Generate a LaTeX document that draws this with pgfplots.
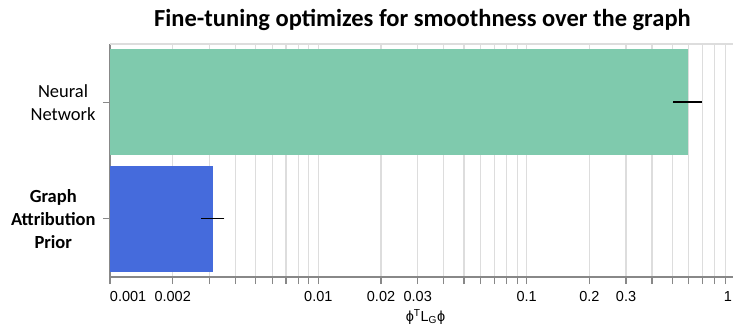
\documentclass[border=0pt]{standalone}
\usepackage{fontspec}
\setmainfont{Carlito}
\newfontfamily\arialfont{Liberation Sans}
\usepackage{pgfplots}
\pgfplotsset{compat=1.18}
\definecolor{nngreen}{HTML}{7FCAAD}
\definecolor{gapblue}{HTML}{456BDC}
\definecolor{gridgray}{HTML}{DDDDDD}
\definecolor{axgray}{HTML}{888888}
\begin{document}
\begin{tikzpicture}
\begin{axis}[
  at={(110bp,56bp)}, anchor=south west,
  scale only axis, width=625bp, height=233bp,
  xmode=log, xmin=0.001, xmax=1,
  ymin=-0.5, ymax=1.5,
  log origin x=infty,
  axis x line*=bottom, axis y line*=left,
  axis line style={-, draw=axgray, line width=1.2bp},
  xtick pos=bottom, ytick pos=left,
  tick align=outside,
  major tick length=7bp,
  tick style={draw=axgray, line width=1.2bp},
  xtick={0.001,0.002,0.003,0.004,0.005,0.006,0.007,0.008,0.009,
         0.01,0.02,0.03,0.04,0.05,0.06,0.07,0.08,0.09,
         0.1,0.2,0.3,0.4,0.5,0.6,0.7,0.8,0.9,1},
  xticklabels={\makebox[0pt][l]{0.001},0.002,,,,,,,,0.01,0.02,0.03,,,,,,,0.1,0.2,0.3,,,,,,,\makebox[0pt][r]{1\hspace{3bp}}},
  minor xtick={},
  xmajorgrids,
  major grid style={draw=gridgray, line width=1.2bp},
  xticklabel style={font=\arialfont\fontsize{14.5bp}{17bp}\selectfont, anchor=base, yshift=-17bp},
  ytick={0,1},
  yticklabels={{\textbf{Graph}\\\textbf{Attribution}\\\textbf{Prior}},{Neural\\Network}},
  yticklabel style={font=\fontsize{18.5bp}{23bp}\selectfont, align=center, anchor=east, xshift=-4bp},
  xlabel={ϕ\textsuperscript{T}L\textsubscript{G}ϕ},
  xlabel style={font=\arialfont\fontsize{14.5bp}{17bp}\selectfont, at={(axis description cs:0.5,0)}, anchor=base, yshift=-44.5bp, xshift=3bp},
  title={Fine-tuning optimizes for smoothness over the graph},
  title style={font=\bfseries\fontsize{24.5bp}{28bp}\selectfont, at={(axis description cs:0.5,1)}, anchor=base, yshift=11.7bp},
  xbar, bar width=0.91, bar shift=0pt,
]
\addplot[draw=none, fill=nngreen, error bars/.cd, x dir=both, x explicit, error mark=none, error bar style={black, line width=1.5bp}]
  coordinates {(0.593,1) += (0.100,0) -= (0.091,0)};
\addplot[draw=none, fill=gapblue, error bars/.cd, x dir=both, x explicit, error mark=none, error bar style={black, line width=1.5bp}]
  coordinates {(0.00312,0) += (0.00042,0) -= (0.00038,0)};
\draw[gridgray, line width=1.2bp] (rel axis cs:0,1) -- (rel axis cs:1,1);
\end{axis}
\pgfresetboundingbox
\useasboundingbox (0,0) rectangle (733bp,333bp);
\end{tikzpicture}
\end{document}
